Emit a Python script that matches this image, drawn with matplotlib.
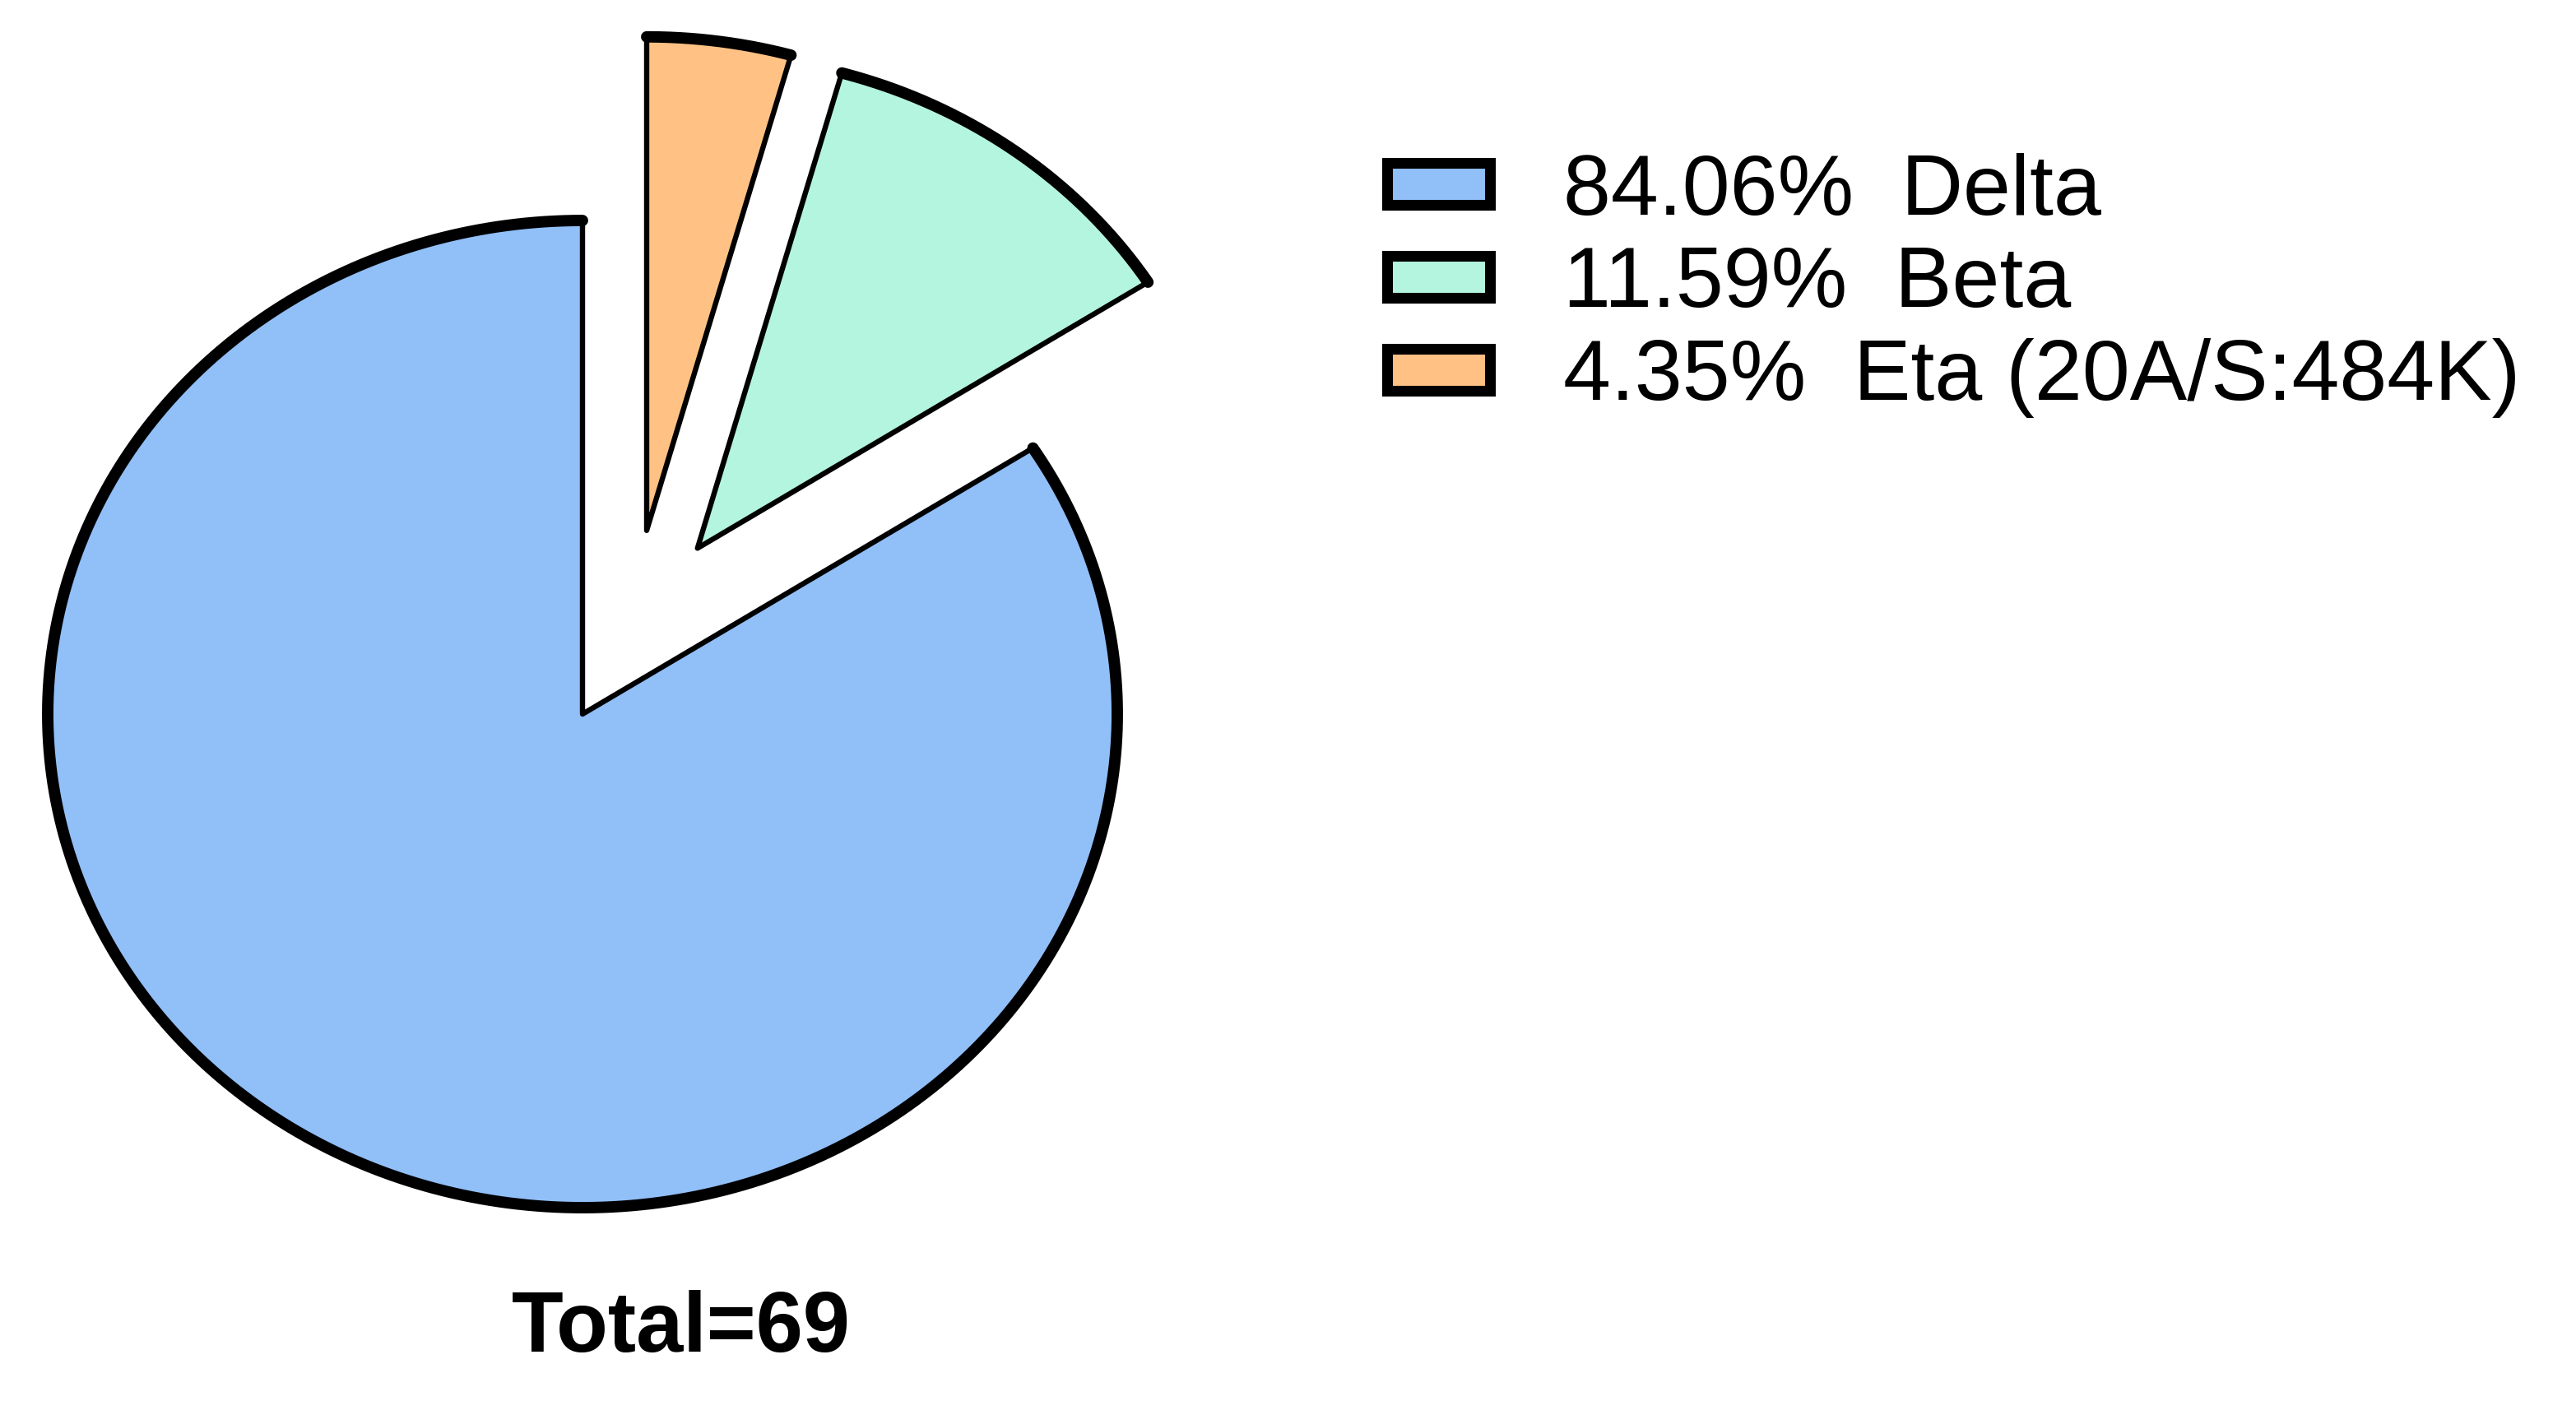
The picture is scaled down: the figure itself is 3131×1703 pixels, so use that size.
import numpy as np
import matplotlib
matplotlib.use("Agg")
import matplotlib.pyplot as plt
from matplotlib.patches import Rectangle

# ---- data ----
labels = ["Delta", "Beta", "Eta (20A/S:484K)"]
percents = [84.06, 11.59, 4.35]
total = 69
colors = ["#91BFF8", "#B4F5DF", "#FFC284"]
# exploded slice offsets (in pie radius units)
offsets = [(0.0, 0.0), (0.215, 0.336), (0.12, 0.372)]

plt.rcParams["font.family"] = ["Liberation Sans", "DejaVu Sans"]

W, H = 3131, 1703
fig = plt.figure(figsize=(W / 100, H / 100), dpi=100)

# pie geometry in pixels (center from top-left), elliptical radii
cx, cy = 708, 868
rx, ry = 650, 600
x0, x1 = -1.05, 1.15
y0, y1 = -1.1, 1.42
ax = fig.add_axes([(cx + x0 * rx) / W, (H - (cy - y0 * ry)) / H,
                   (x1 - x0) * rx / W, (y1 - y0) * ry / H])

wedges, _ = ax.pie(percents, colors=colors, startangle=90, counterclock=True,
                   radius=1.0,
                   wedgeprops=dict(edgecolor="black", linewidth=4.6,
                                   joinstyle="round"))
for w, off in zip(wedges, offsets):
    w.set_center(off)
    t = np.radians(np.linspace(w.theta1, w.theta2, 300))
    ax.plot(off[0] + np.cos(t), off[1] + np.sin(t), color="black",
            lw=10, solid_capstyle="round", zorder=5)

ax.set_xlim(x0, x1)
ax.set_ylim(y0, y1)
ax.set_aspect("auto")
ax.axis("off")

# ---- legend (manual) ----
box_left, box_w, box_h = 1686.5, 124, 51
row_y = [223, 336, 449]
text_x = 1900
for p, lab, c, ry_ in zip(percents, labels, colors, row_y):
    fig.patches.append(Rectangle(((box_left) / W, (H - ry_ - box_h / 2) / H),
                                 box_w / W, box_h / H, transform=fig.transFigure,
                                 facecolor=c, edgecolor="black", linewidth=9.4,
                                 joinstyle="miter"))
    fig.text(text_x / W, (H - ry_) / H, f"{p:.2f}%  {lab}", fontsize=75,
             ha="left", va="center_baseline")

fig.text(828 / W, (H - 1605) / H, f"Total={total}", fontsize=74,
         fontweight="bold", ha="center", va="center_baseline")

fig.savefig("out.png", dpi=100, facecolor="white")
